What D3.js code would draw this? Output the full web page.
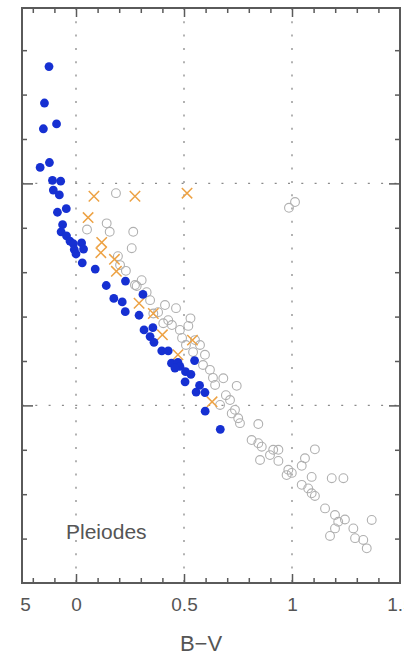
<!DOCTYPE html>
<html>
<head>
<meta charset="utf-8">
<script src="https://cdn.jsdelivr.net/npm/d3@7"></script>
<style>
  html, body { margin: 0; padding: 0; background: #fff; overflow: hidden; }
  svg { display: block; }
</style>
</head>
<body>
<svg id="chart" width="404" height="657"></svg>
<script>
// Cluster members (filled blue): colour B-V and magnitude V
const pleiadesBV = [-0.125,-0.146,-0.090,-0.151,-0.123,-0.166,-0.109,-0.071,-0.105,-0.077,
  -0.045,-0.086,-0.062,-0.069,-0.044,-0.028,-0.012,0.026,-0.008,0.035,
  0.000,0.029,0.089,0.140,0.229,0.175,0.214,0.228,0.310,0.292,
  0.315,0.356,0.343,0.361,0.397,0.427,0.442,0.472,0.481,0.458,
  0.549,0.507,0.532,0.505,0.572,0.556,0.597,0.598,0.668];
const pleiadesV = [2.37,3.19,3.66,3.77,4.53,4.64,4.93,4.95,5.15,5.26,
  5.57,5.65,5.93,6.09,6.18,6.30,6.36,6.34,6.49,6.48,
  6.59,6.79,6.93,7.30,7.20,7.59,7.67,7.89,7.50,7.97,
  8.30,8.25,8.45,8.58,8.77,8.77,9.05,9.03,9.12,9.16,
  8.99,9.24,9.30,9.47,9.55,9.70,9.71,10.13,10.54];

// Second sample (orange crosses)
const crossBV = [0.083,0.273,0.514,0.056,0.119,0.115,0.178,0.187,0.292,0.358,0.400,0.539,0.472,0.630];
const crossV  = [5.29,5.29,5.22,5.77,6.33,6.56,6.71,6.98,7.70,7.93,8.41,8.53,8.86,9.92];

// Comparison sample (open grey circles)
const fieldBV = [1.014,0.986,0.185,0.142,0.051,0.156,0.265,0.258,0.194,0.231,
  0.304,0.327,0.281,0.412,0.463,0.358,0.427,0.530,0.520,0.481,
  0.404,0.574,0.509,0.682,0.744,0.620,0.644,0.736,0.751,0.759,
  0.844,0.721,0.813,0.844,0.860,0.913,0.937,0.898,0.937,0.852,
  1.106,1.060,1.045,0.983,0.975,0.999,1.091,1.045,1.075,1.091,
  1.106,1.184,1.238,1.153,1.199,1.214,1.245,1.199,1.176,1.284,
  1.292,1.330,1.369,1.346,0.694,0.667,0.551,0.597,
  0.204,0.273,0.343,0.380,0.444,0.491,0.542,0.588,0.634,0.713];
const fieldV = [5.42,5.55,5.22,5.90,6.04,6.09,6.09,6.46,6.64,6.97,
  7.18,7.45,7.31,7.74,7.81,7.93,8.08,8.04,8.21,8.30,
  8.15,8.64,8.64,9.39,9.56,9.20,9.54,10.10,10.29,10.40,
  10.42,10.18,10.78,10.85,10.93,11.00,11.00,11.12,11.25,11.23,
  10.99,11.19,11.36,11.45,11.57,11.52,11.61,11.79,11.87,11.98,
  12.04,11.64,11.64,12.32,12.47,12.62,12.57,12.77,12.94,12.77,
  12.99,13.03,12.58,13.22,9.77,9.99,8.53,8.86,
  6.84,7.29,7.63,7.90,8.19,8.48,8.80,9.09,9.38,9.88];

// Axis ticks and labels
const xTickValues = [-0.25, 0, 0.5, 1, 1.5];
const xTickLabels = ["5", "0", "0.5", "1", "1.5"];
const xMajor = [0, 0.5, 1];
const xMinor = [-0.2,-0.1,0.1,0.2,0.3,0.4,0.6,0.7,0.8,0.9,1.1,1.2,1.3,1.4];
const yMajor = [5, 10];
const yMinor = [2,3,4,6,7,8,9,11,12,13];
const xGrid = [0, 0.5, 1];
const yGrid = [5, 10];
const clusterName = "Pleiodes";
const xTitle = "B\u2212V";

const svg = d3.select("#chart");
const plotL = 22, plotR = 400, plotT = 8, plotB = 583;

const x = d3.scaleLinear().domain([-0.25, 1.5]).range([plotL, plotR]);
const y = d3.scaleLinear().domain([1.05, 14]).range([plotT, plotB]);

const frameColor = "#5a5a5a";

// dotted grid
const grid = svg.append("g")
  .attr("stroke", "#8a8a8a").attr("stroke-width", 1.3)
  .attr("stroke-dasharray", "2,11.3");
grid.selectAll("line.vx").data(xGrid).join("line").attr("class", "vx")
  .attr("x1", d => x(d)).attr("x2", d => x(d))
  .attr("y1", plotT).attr("y2", plotB);
grid.selectAll("line.hy").data(yGrid).join("line").attr("class", "hy")
  .attr("x1", plotL).attr("x2", plotR)
  .attr("y1", d => y(d)).attr("y2", d => y(d));

// inward ticks on all four sides
function styleAxis(g) {
  g.select(".domain").remove();
  g.selectAll(".tick line").attr("stroke", frameColor).attr("stroke-width", 1.5);
  g.selectAll(".tick text").remove();
}
svg.append("g").attr("transform", `translate(0,${plotB})`)
  .call(d3.axisTop(x).tickValues(xMinor).tickSize(5)).call(styleAxis);
svg.append("g").attr("transform", `translate(0,${plotB})`)
  .call(d3.axisTop(x).tickValues(xMajor).tickSize(9)).call(styleAxis);
svg.append("g").attr("transform", `translate(0,${plotT})`)
  .call(d3.axisBottom(x).tickValues(xMinor).tickSize(5)).call(styleAxis);
svg.append("g").attr("transform", `translate(0,${plotT})`)
  .call(d3.axisBottom(x).tickValues(xMajor).tickSize(9)).call(styleAxis);
svg.append("g").attr("transform", `translate(${plotL},0)`)
  .call(d3.axisRight(y).tickValues(yMinor).tickSize(5)).call(styleAxis);
svg.append("g").attr("transform", `translate(${plotL},0)`)
  .call(d3.axisRight(y).tickValues(yMajor).tickSize(11)).call(styleAxis);
svg.append("g").attr("transform", `translate(${plotR},0)`)
  .call(d3.axisLeft(y).tickValues(yMinor).tickSize(5)).call(styleAxis);
svg.append("g").attr("transform", `translate(${plotR},0)`)
  .call(d3.axisLeft(y).tickValues(yMajor).tickSize(11)).call(styleAxis);

// frame
svg.append("rect")
  .attr("x", plotL).attr("y", plotT)
  .attr("width", plotR - plotL).attr("height", plotB - plotT)
  .attr("fill", "none").attr("stroke", frameColor).attr("stroke-width", 2);

// x tick labels (the outermost ones run past the panel edges)
const labelAxis = svg.append("g").attr("transform", `translate(0,${plotB})`)
  .call(d3.axisBottom(x).tickValues(xTickValues).tickSize(0)
    .tickFormat((d, i) => xTickLabels[i]));
labelAxis.select(".domain").remove();
labelAxis.selectAll(".tick text")
  .attr("y", 28).attr("dy", null)
  .attr("dx", (d, i) => i === 0 ? 3 : 0)
  .attr("font-family", "'Liberation Sans', Arial, sans-serif")
  .attr("font-size", 19).attr("fill", "#555");

// open grey circles
svg.append("g").selectAll("circle").data(d3.range(fieldBV.length)).join("circle")
  .attr("cx", i => x(fieldBV[i])).attr("cy", i => y(fieldV[i]))
  .attr("r", 4.4).attr("fill", "none")
  .attr("stroke", "#b0b0b0").attr("stroke-width", 1.1);

// orange crosses
const cs = 5.2;
svg.append("g").selectAll("path").data(d3.range(crossBV.length)).join("path")
  .attr("transform", i => `translate(${x(crossBV[i])},${y(crossV[i])})`)
  .attr("d", `M${-cs},${-cs}L${cs},${cs}M${-cs},${cs}L${cs},${-cs}`)
  .attr("stroke", "#eda244").attr("stroke-width", 1.5).attr("fill", "none");

// filled blue circles
svg.append("g").selectAll("circle").data(d3.range(pleiadesBV.length)).join("circle")
  .attr("cx", i => x(pleiadesBV[i])).attr("cy", i => y(pleiadesV[i]))
  .attr("r", 4.4).attr("fill", "#1630d2");

// cluster name
svg.append("text")
  .attr("x", 66).attr("y", 539)
  .attr("font-family", "'Liberation Sans', Arial, sans-serif")
  .attr("font-size", 21).attr("fill", "#555")
  .text(clusterName);

// axis title
svg.append("text")
  .attr("x", 201).attr("y", 651).attr("text-anchor", "middle")
  .attr("font-family", "'Liberation Sans', Arial, sans-serif")
  .attr("font-size", 22).attr("fill", "#555")
  .text(xTitle);
</script>
</body>
</html>
